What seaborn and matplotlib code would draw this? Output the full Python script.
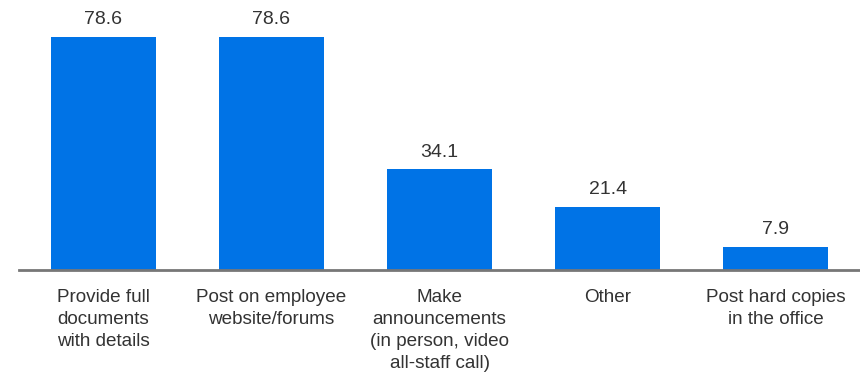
import matplotlib
matplotlib.use("Agg")
import matplotlib.pyplot as plt
import seaborn as sns
import pandas as pd

categories = [
    "Provide full\ndocuments\nwith details",
    "Post on employee\nwebsite/forums",
    "Make\nannouncements\n(in person, video\nall-staff call)",
    "Other",
    "Post hard copies\nin the office",
]
values = [78.6, 78.6, 34.1, 21.4, 7.9]
value_labels = ["78.6", "78.6", "34.1", "21.4", "7.9"]

sns.set_theme(style="white")
plt.rcParams['font.family'] = ['Liberation Sans', 'DejaVu Sans']

df = pd.DataFrame({"cat": categories, "val": values})

fig = plt.figure(figsize=(8.6, 3.75), dpi=100)
ax = fig.add_axes([19 / 860, 1 - 270 / 375, 841 / 860, 267 / 375])
sns.barplot(data=df, x="cat", y="val", color="#0073E6", saturation=1, width=0.625,
            linewidth=0, ax=ax)

for p, lab in zip(ax.patches, value_labels):
    ax.annotate(lab, (p.get_x() + p.get_width() / 2, p.get_height()),
                xytext=(0, 6), textcoords="offset points", ha="center", va="bottom",
                fontsize=14, color="#333333")

ax.set_xlim(-0.5, 4.5)
ax.set_ylim(0, 90)
ax.set_xlabel("")
ax.set_ylabel("")
ax.set_yticks([])
for s in ["top", "right", "left"]:
    ax.spines[s].set_visible(False)
ax.spines["bottom"].set_color("#777777")
ax.spines["bottom"].set_linewidth(2)
ax.tick_params(axis="x", length=0, pad=14, labelsize=13.6, labelcolor="#333333")
for t in ax.get_xticklabels():
    t.set_linespacing(1.38)

fig.savefig("out.png", dpi=100)
